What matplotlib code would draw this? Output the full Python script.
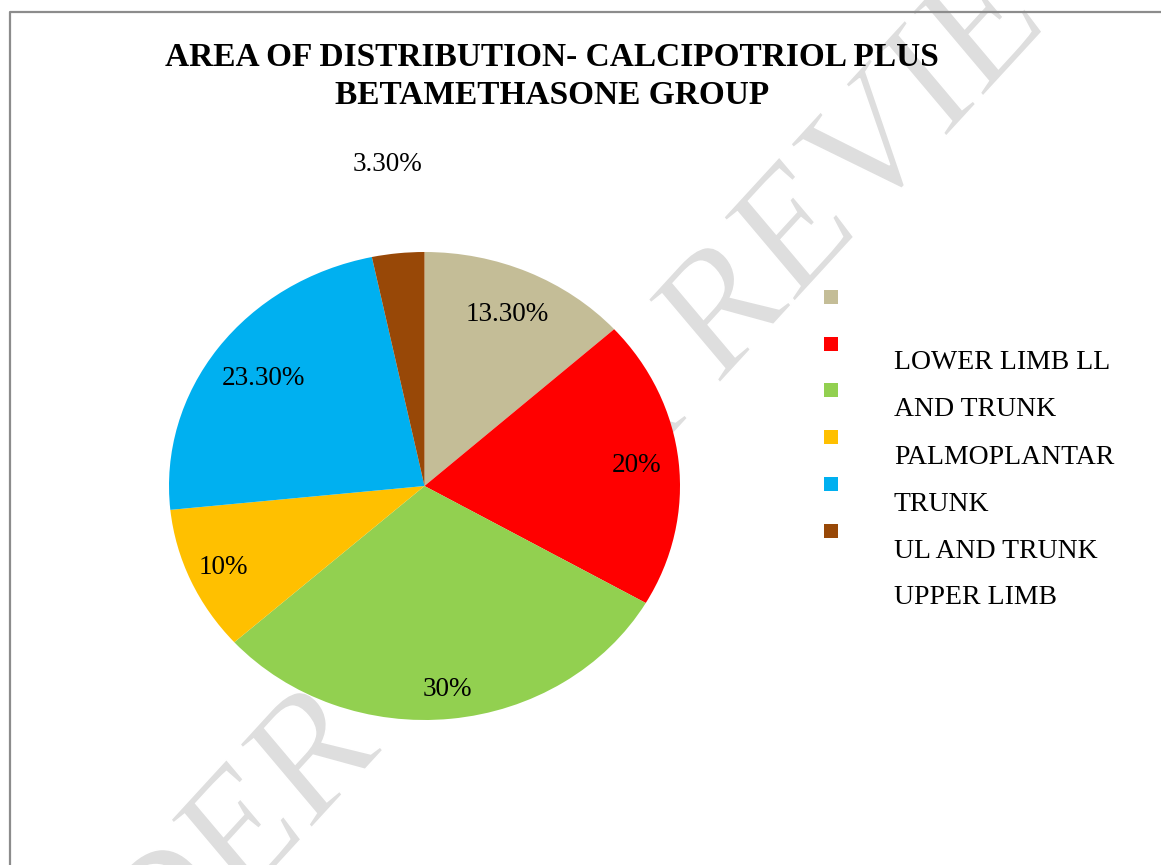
import matplotlib
matplotlib.use("Agg")
import matplotlib.pyplot as plt
from matplotlib.lines import Line2D
from matplotlib.patches import Rectangle, PathPatch
from matplotlib.textpath import TextPath
from matplotlib.font_manager import FontProperties
from matplotlib.transforms import Affine2D, IdentityTransform
import numpy as np

# slice values (%), clockwise from 12 o'clock
values = [13.3, 20, 30, 10, 23.3, 3.3]
pct_labels = ["13.30%", "20%", "30%", "10%", "23.30%", "3.30%"]
colors = ["#C4BD97", "#FF0000", "#92D050", "#FFC000", "#00B0F0", "#984807"]
# legend text as it appears (shifted against the colour keys)
legend_text = ["LOWER LIMB LL", "AND TRUNK", "PALMOPLANTAR", "TRUNK",
               "UL AND TRUNK", "UPPER LIMB"]
label_radius = [0.80, 0.835, 0.875, 0.86, 0.78, 1.38]

W, H = 1161, 865
plt.rcParams['font.family'] = ['Liberation Serif', 'DejaVu Serif']

fig = plt.figure(figsize=(W / 100, H / 100), dpi=100)

def fx(px):
    return px / W

def fy(py):
    return 1 - py / H

# watermark (slightly squeezed sideways, as in the source image), behind the pie
wm = TextPath((0, 0), "UNDER PEER REVIEW", size=178,
              prop=FontProperties(family="Liberation Serif"))
ext = wm.get_extents()
wm_tr = (Affine2D()
         .translate(-(ext.x0 + ext.x1) / 2, -(ext.y0 + ext.y1) / 2)
         .rotate_deg(43.8)
         .scale(0.88, 1.0)
         .translate(541, H - 499))
fig.add_artist(PathPatch(wm_tr.transform_path(wm), transform=IdentityTransform(),
                         facecolor="#DEDEDE", edgecolor="white", lw=1.2, zorder=0))

# pie drawn as an ellipse, like the original
ax = fig.add_axes([fx(169), fy(720), fx(680 - 169), (720 - 252) / H])
ax.set_zorder(2)
wedges, _ = ax.pie(values, colors=colors, startangle=90, counterclock=False,
                   radius=1, wedgeprops=dict(linewidth=0))
ax.set_aspect("auto")
ax.set_xlim(-1, 1)
ax.set_ylim(-1, 1)
ax.axis("off")
ax.patch.set_visible(False)

for w, lab, r in zip(wedges, pct_labels, label_radius):
    ang = np.deg2rad((w.theta1 + w.theta2) / 2)
    ax.text(r * np.cos(ang), r * np.sin(ang), lab, fontsize=19.5,
            ha="center", va="center", clip_on=False)

# title
fig.text(fx(552), fy(57), "AREA OF DISTRIBUTION- CALCIPOTRIOL PLUS",
         fontsize=24, fontweight="bold", ha="center", va="center", zorder=3)
fig.text(fx(552), fy(96), "BETAMETHASONE GROUP",
         fontsize=24, fontweight="bold", ha="center", va="center", zorder=3)

# legend keys and text
for i, c in enumerate(colors):
    top = 290 + i * 46.7
    fig.add_artist(Rectangle((fx(824), fy(top + 14)), 14 / W, 14 / H,
                             transform=fig.transFigure, color=c, lw=0, zorder=3))
for i, t in enumerate(legend_text):
    fig.text(fx(894), fy(363 + i * 47), t, fontsize=20, ha="left", va="center",
             zorder=3)

# chart frame (left and top edge visible)
fig.add_artist(Line2D([fx(9.5), fx(9.5), 1.0], [0.0, fy(11.5), fy(11.5)],
                      transform=fig.transFigure, color="#8C8C8C", lw=1.6, zorder=3))

fig.savefig("out.png", dpi=100)
